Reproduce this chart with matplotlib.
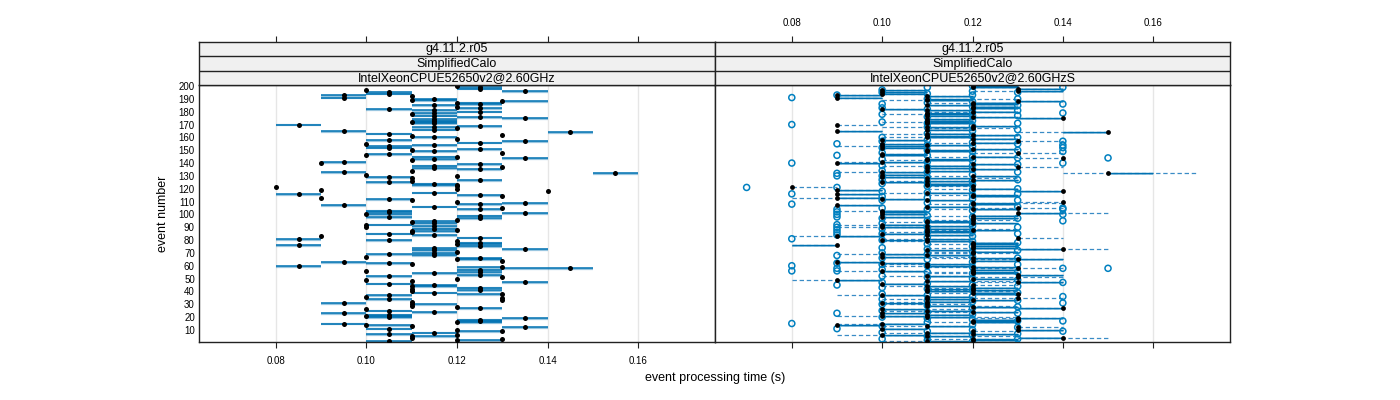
"""
Per-event processing time for two machines, lattice style panels.
"""

import matplotlib
matplotlib.use('Agg')
import matplotlib.pyplot as plt
import numpy as np

plt.rcParams['font.family'] = ['Liberation Sans', 'DejaVu Sans']

events = np.arange(1, 201)

# Panel 1: median and min/max per event, in ms (events 1..200)
med1 = [105, 120, 130, 110, 110, 120, 105, 115, 130, 120,
        105, 135, 110, 100, 95, 120, 125, 125, 135, 105,
        100, 105, 95, 115, 105, 100, 125, 120, 110, 110,
        95, 110, 130, 105, 130, 100, 105, 130, 115, 110,
        125, 110, 125, 110, 115, 105, 135, 110, 100, 120,
        130, 105, 125, 115, 125, 100, 125, 145, 130, 85,
        110, 105, 95, 130, 120, 125, 100, 115, 105, 115,
        120, 115, 135, 115, 125, 85, 120, 125, 120, 105,
        85, 125, 90, 115, 105, 110, 110, 120, 115, 100,
        115, 100, 115, 110, 115, 120, 125, 105, 125, 100,
        135, 105, 105, 125, 130, 115, 95, 125, 135, 120,
        110, 105, 90, 130, 125, 85, 115, 140, 90, 120,
        80, 120, 120, 115, 105, 110, 125, 110, 105, 120,
        100, 155, 95, 110, 125, 115, 130, 115, 125, 90,
        95, 110, 115, 135, 120, 100, 105, 130, 115, 110,
        125, 105, 105, 115, 100, 125, 135, 105, 120, 115,
        110, 130, 105, 145, 95, 115, 120, 115, 125, 85,
        115, 110, 115, 115, 135, 125, 115, 110, 115, 125,
        115, 105, 125, 120, 115, 125, 120, 130, 110, 115,
        95, 110, 95, 105, 105, 135, 100, 125, 125, 120]
lo1 = [100, 120, 130, 110, 110, 120, 100, 110, 120, 120,
       100, 130, 110, 100, 90, 120, 120, 120, 130, 100,
       100, 100, 90, 110, 100, 100, 120, 120, 110, 110,
       90, 110, 130, 100, 130, 100, 100, 120, 110, 110,
       120, 110, 120, 110, 110, 100, 130, 110, 100, 120,
       130, 100, 120, 110, 120, 100, 120, 130, 120, 80,
       110, 100, 90, 130, 120, 120, 100, 110, 100, 110,
       120, 110, 130, 110, 120, 80, 120, 120, 120, 100,
       80, 120, 90, 110, 100, 110, 110, 120, 110, 100,
       110, 100, 110, 110, 110, 120, 120, 100, 120, 100,
       130, 100, 100, 120, 130, 110, 90, 120, 130, 120,
       110, 100, 90, 130, 120, 80, 110, 140, 90, 120,
       80, 120, 110, 110, 100, 110, 120, 110, 100, 120,
       100, 150, 90, 110, 120, 110, 130, 110, 120, 90,
       90, 110, 110, 130, 110, 100, 100, 130, 110, 110,
       120, 100, 100, 110, 100, 120, 130, 100, 120, 110,
       110, 130, 100, 140, 90, 110, 120, 110, 120, 80,
       110, 110, 110, 110, 130, 120, 110, 110, 110, 120,
       110, 100, 120, 120, 110, 120, 120, 130, 110, 110,
       90, 110, 90, 100, 100, 130, 100, 120, 120, 120]
hi1 = [110, 130, 130, 110, 120, 120, 110, 120, 130, 120,
       110, 140, 110, 110, 100, 130, 130, 130, 140, 110,
       110, 110, 100, 120, 110, 100, 130, 120, 110, 120,
       100, 110, 130, 110, 130, 100, 110, 130, 120, 110,
       130, 110, 130, 120, 120, 110, 140, 110, 100, 120,
       130, 110, 130, 120, 130, 100, 130, 150, 130, 90,
       110, 110, 100, 130, 130, 130, 100, 120, 110, 120,
       120, 120, 140, 120, 130, 90, 130, 130, 120, 110,
       90, 130, 90, 120, 110, 110, 120, 120, 120, 100,
       120, 110, 120, 110, 120, 120, 130, 110, 130, 110,
       140, 110, 110, 130, 130, 120, 100, 130, 140, 120,
       110, 110, 90, 130, 130, 90, 120, 140, 90, 120,
       80, 120, 120, 120, 110, 110, 130, 110, 110, 120,
       100, 160, 100, 110, 130, 120, 130, 120, 130, 90,
       100, 110, 120, 140, 120, 100, 110, 130, 120, 110,
       130, 110, 110, 120, 100, 130, 140, 110, 120, 120,
       110, 130, 110, 150, 100, 120, 120, 120, 130, 90,
       120, 120, 120, 120, 140, 130, 120, 110, 120, 130,
       120, 110, 130, 120, 120, 130, 130, 140, 120, 120,
       100, 110, 100, 110, 110, 140, 100, 130, 130, 120]

# Panel 2: median, box (solid) and whiskers (dashed), in ms
med2 = [110, 120, 120, 140, 110, 100, 120, 110, 120, 130,
        100, 130, 110, 90, 100, 120, 120, 130, 130, 110,
        100, 110, 100, 120, 110, 100, 140, 120, 110, 110,
        100, 110, 120, 110, 130, 110, 100, 130, 120, 110,
        120, 110, 120, 110, 120, 100, 130, 110, 90, 120,
        130, 110, 130, 120, 120, 100, 120, 130, 120, 110,
        110, 100, 90, 120, 130, 120, 100, 110, 100, 120,
        120, 110, 140, 120, 120, 90, 120, 120, 110, 100,
        110, 130, 90, 110, 100, 110, 110, 120, 110, 100,
        110, 100, 120, 110, 110, 120, 120, 100, 120, 100,
        130, 100, 100, 120, 130, 110, 90, 120, 120, 140,
        110, 100, 90, 120, 120, 90, 110, 140, 90, 120,
        80, 120, 110, 110, 100, 110, 120, 110, 100, 120,
        100, 150, 100, 110, 120, 110, 130, 110, 120, 90,
        100, 110, 110, 140, 120, 100, 100, 130, 110, 110,
        120, 100, 100, 110, 100, 120, 130, 100, 120, 110,
        110, 120, 110, 150, 90, 110, 120, 110, 120, 90,
        110, 110, 110, 110, 140, 120, 110, 110, 110, 120,
        110, 100, 120, 120, 110, 120, 120, 130, 110, 110,
        90, 110, 90, 100, 100, 130, 100, 130, 120, 120]
sol_lo2 = [110, 120, 120, 130, 110, 100, 120, 110, 120, 130,
           100, 130, 110, 90, 100, 120, 120, 120, 130, 110,
           100, 110, 100, 120, 110, 100, 130, 120, 110, 110,
           100, 110, 120, 110, 130, 110, 100, 120, 120, 110,
           120, 110, 120, 110, 120, 100, 130, 110, 90, 120,
           130, 110, 130, 120, 120, 100, 120, 130, 120, 110,
           110, 100, 90, 120, 130, 120, 100, 110, 100, 120,
           120, 110, 130, 120, 120, 80, 120, 120, 110, 100,
           110, 130, 90, 110, 100, 110, 110, 120, 110, 100,
           110, 100, 120, 110, 110, 120, 120, 100, 120, 100,
           130, 100, 100, 120, 130, 110, 90, 120, 120, 140,
           110, 100, 90, 120, 120, 90, 110, 130, 90, 120,
           80, 120, 110, 110, 100, 110, 120, 110, 100, 120,
           100, 150, 100, 110, 120, 110, 130, 110, 120, 90,
           100, 110, 110, 140, 120, 100, 100, 130, 110, 110,
           120, 100, 100, 110, 100, 120, 130, 100, 120, 110,
           110, 120, 110, 140, 90, 110, 120, 110, 120, 90,
           110, 110, 110, 110, 130, 120, 110, 110, 110, 120,
           110, 100, 120, 120, 110, 120, 120, 130, 110, 110,
           90, 110, 90, 100, 100, 130, 100, 130, 120, 120]
sol_hi2 = [120, 130, 130, 140, 120, 110, 130, 120, 120, 140,
           110, 130, 120, 100, 110, 130, 130, 130, 140, 120,
           110, 120, 110, 130, 120, 110, 140, 130, 120, 110,
           110, 120, 130, 120, 130, 120, 110, 130, 130, 120,
           130, 120, 130, 120, 120, 110, 140, 120, 100, 130,
           130, 120, 140, 130, 130, 110, 130, 130, 130, 120,
           120, 110, 100, 130, 140, 130, 110, 120, 110, 120,
           130, 120, 140, 130, 130, 90, 130, 130, 120, 110,
           120, 130, 100, 120, 110, 120, 120, 130, 120, 110,
           120, 110, 130, 120, 120, 120, 130, 110, 130, 110,
           140, 110, 110, 130, 130, 120, 100, 130, 130, 140,
           120, 110, 100, 130, 130, 100, 120, 140, 100, 130,
           80, 120, 120, 120, 110, 120, 130, 120, 110, 130,
           110, 160, 110, 120, 130, 120, 130, 120, 130, 100,
           110, 120, 120, 140, 130, 110, 110, 130, 120, 120,
           130, 110, 110, 120, 110, 130, 130, 110, 130, 120,
           120, 130, 120, 150, 100, 120, 120, 120, 130, 90,
           120, 120, 120, 120, 140, 130, 120, 120, 120, 130,
           120, 110, 130, 130, 120, 130, 130, 140, 120, 120,
           100, 120, 100, 110, 110, 140, 110, 140, 130, 130]
das_lo2 = [100, 120, 110, 130, 110, 90, 120, 100, 120, 130,
           100, 130, 100, 90, 90, 110, 120, 120, 120, 110,
           90, 110, 100, 110, 100, 100, 130, 120, 110, 100,
           100, 100, 120, 100, 120, 110, 90, 120, 110, 110,
           110, 110, 110, 100, 120, 100, 120, 110, 80, 120,
           120, 100, 130, 110, 110, 90, 120, 120, 110, 100,
           100, 100, 90, 120, 120, 110, 100, 110, 90, 110,
           110, 110, 130, 110, 120, 80, 110, 120, 100, 100,
           100, 130, 80, 110, 100, 100, 110, 110, 110, 90,
           110, 90, 120, 100, 110, 110, 120, 100, 110, 100,
           130, 100, 90, 110, 120, 110, 90, 110, 120, 130,
           110, 100, 80, 120, 110, 90, 100, 130, 90, 110,
           80, 110, 110, 110, 100, 100, 120, 110, 100, 110,
           100, 140, 90, 110, 120, 110, 130, 100, 120, 90,
           90, 100, 110, 130, 110, 100, 100, 120, 110, 110,
           120, 100, 90, 110, 100, 110, 130, 100, 120, 100,
           110, 120, 100, 130, 90, 110, 110, 100, 120, 90,
           110, 100, 110, 110, 130, 120, 110, 100, 110, 110,
           110, 100, 120, 120, 110, 120, 110, 130, 100, 110,
           90, 110, 90, 100, 100, 120, 100, 130, 120, 120]
das_hi2 = [120, 130, 130, 150, 130, 110, 130, 120, 130, 140,
           110, 140, 120, 100, 110, 130, 130, 130, 140, 130,
           110, 120, 110, 130, 120, 120, 140, 130, 130, 120,
           110, 120, 130, 120, 140, 120, 110, 130, 130, 130,
           130, 120, 130, 120, 130, 110, 140, 130, 100, 130,
           140, 120, 140, 130, 130, 110, 130, 140, 130, 120,
           120, 110, 100, 130, 140, 130, 120, 120, 110, 130,
           130, 120, 150, 130, 130, 90, 130, 130, 120, 110,
           120, 140, 100, 120, 110, 120, 120, 130, 130, 110,
           120, 110, 130, 120, 120, 130, 130, 110, 130, 110,
           150, 110, 110, 130, 140, 120, 100, 130, 140, 140,
           120, 110, 100, 130, 130, 100, 120, 140, 100, 130,
           90, 120, 120, 120, 110, 120, 130, 130, 110, 130,
           110, 170, 110, 120, 130, 120, 140, 120, 130, 100,
           110, 120, 120, 140, 130, 110, 110, 140, 120, 120,
           130, 110, 110, 120, 110, 130, 140, 110, 130, 120,
           120, 130, 120, 150, 100, 120, 130, 120, 130, 100,
           120, 120, 120, 120, 140, 130, 120, 120, 120, 130,
           120, 110, 130, 130, 120, 130, 130, 140, 120, 130,
           100, 120, 100, 110, 110, 140, 110, 140, 130, 130]

# Panel 2 outliers (open circles): event numbers for each time value (ms)
out_070 = [121]
out_080 = [15, 56, 60, 81, 108, 116, 140, 170, 191]
out_090 = [11, 23, 45, 56, 58, 62, 68, 84, 86, 88, 90, 92, 98, 100, 102,
           104, 121, 130, 132, 146, 155, 193]
out_100 = [3, 8, 13, 20, 25, 30, 34, 38, 43, 47, 52, 57, 61, 66, 70, 74, 80,
           85, 89, 93, 97, 105, 111, 114, 118, 124, 127, 130, 134, 138, 143,
           148, 152, 157, 160, 172, 178, 183, 186, 195, 197]
out_110 = [2, 5, 9, 16, 19, 24, 29, 33, 37, 42, 46, 51, 55, 60, 65, 69, 73,
           77, 82, 86, 90, 95, 99, 104, 109, 113, 117, 122, 125, 129, 133,
           137, 141, 146, 150, 154, 158, 163, 168, 171, 176, 182, 187, 190,
           194, 199]
out_120 = [1, 6, 10, 14, 18, 22, 27, 32, 36, 41, 45, 50, 54, 59, 63, 67, 71,
           75, 79, 83, 87, 91, 94, 98, 103, 107, 112, 115, 119, 123, 126, 131,
           135, 138, 142, 145, 149, 153, 156, 161, 165, 169, 173, 177, 180,
           184, 188, 193, 196, 200]
out_130 = [3, 7, 12, 17, 23, 28, 33, 39, 44, 49, 55, 61, 66, 72, 78, 85, 90,
           97, 106, 111, 116, 120, 127, 133, 139, 144, 150, 155, 160, 166,
           171, 177, 181, 185, 190, 195]
out_140 = [9, 17, 31, 36, 47, 58, 95, 100, 104, 105, 140, 149, 152, 154, 157,
           179, 186, 199]
out_150 = [58, 144]

strip1 = 'g4.11.2.r05'
strip2 = 'SimplifiedCalo'
machines = ['IntelXeonCPUE52650v2@2.60GHz', 'IntelXeonCPUE52650v2@2.60GHzS']
xticks = [0.08, 0.10, 0.12, 0.14, 0.16]
yticks = list(range(10, 201, 10))

BLUE = '#0072B2'
CIRC = '#0080C0'
FRAME = '#222222'
xlim = (0.063, 0.177)
ylim = (0.6, 200.8)

W, H = 1400, 400
fig = plt.figure(figsize=(14, 4), dpi=100)

panel_px = [(199, 715), (715, 1230)]
top_px, bot_px = 85, 342
strip_top_px = 42

axes = []
for i, (l, r) in enumerate(panel_px):
    ax = fig.add_axes([l / W, 1 - bot_px / H, (r - l) / W, (bot_px - top_px) / H])
    ax.set_xlim(*xlim)
    ax.set_ylim(*ylim)
    for x in xticks:
        ax.axvline(x, color='#e6e6e6', lw=1, zorder=0)
    for s in ax.spines.values():
        s.set_color(FRAME)
        s.set_linewidth(1)
    ax.set_xticks(xticks)
    ax.tick_params(axis='x', direction='out', length=4, width=0.8, color=FRAME,
                   labelsize=7, pad=6, labelbottom=(i == 0))
    if i == 0:
        ax.set_yticks(yticks)
        ax.set_yticklabels([str(v) for v in yticks])
        ax.tick_params(axis='y', length=0, labelsize=7, pad=3)
    else:
        ax.set_yticks([])
    axes.append(ax)

    # strips above the panel, with the top ticks
    sax = fig.add_axes([l / W, 1 - top_px / H, (r - l) / W, (top_px - strip_top_px) / H])
    sax.set_xlim(*xlim)
    sax.set_ylim(0, 3)
    sax.set_facecolor('#f0f0f0')
    for yy in (1, 2):
        sax.axhline(yy, color=FRAME, lw=1)
    for s in sax.spines.values():
        s.set_color(FRAME)
        s.set_linewidth(1)
    for yy, txt in zip((2.5, 1.5, 0.5), (strip1, strip2, machines[i])):
        sax.text(np.mean(xlim), yy, txt, ha='center', va='center', fontsize=9)
    sax.set_yticks([])
    sax.set_xticks(xticks)
    sax.xaxis.tick_top()
    sax.tick_params(axis='x', direction='out', length=4, width=0.8, color=FRAME,
                    labelsize=7, pad=6, labeltop=(i == 1), labelbottom=False)

ev = events
s = np.array

# panel 1: min-max segment (with a light shadow) and median point
ax = axes[0]
ax.hlines(ev - 0.6, s(lo1) / 1000, s(hi1) / 1000, color=BLUE, alpha=0.4, lw=1.6, zorder=1)
ax.hlines(ev, s(lo1) / 1000, s(hi1) / 1000, color=BLUE, lw=1.1, zorder=2)
ax.scatter(s(med1) / 1000, ev, s=13, c='black', lw=0, zorder=3)

# panel 2: whiskers dashed, box solid, median black, outliers open
ax = axes[1]
ax.hlines(ev, s(das_lo2) / 1000, s(das_hi2) / 1000, color='#3a8cc6', lw=0.9,
          linestyles=(0, (3.5, 2.2)), zorder=1)
ax.hlines(ev - 0.6, s(sol_lo2) / 1000, s(sol_hi2) / 1000, color=BLUE, alpha=0.35, lw=1.4, zorder=1)
ax.hlines(ev, s(sol_lo2) / 1000, s(sol_hi2) / 1000, color=BLUE, lw=1.0, zorder=2)
for t, evs in [(70, out_070), (80, out_080), (90, out_090), (100, out_100), (110, out_110),
               (120, out_120), (130, out_130), (140, out_140), (150, out_150)]:
    ax.scatter(np.full(len(evs), t / 1000), evs, s=19, facecolors='none',
               edgecolors=CIRC, linewidths=1.1, zorder=3)
ax.scatter(s(med2) / 1000, ev, s=12, c='black', lw=0, zorder=4)

fig.text(715 / W, 1 - 378 / H, 'event processing time (s)', ha='center', va='center', fontsize=9)
fig.text(163 / W, 1 - 214 / H, 'event number', ha='center', va='center', rotation=90, fontsize=9)

plt.savefig('out.png', dpi=100)
